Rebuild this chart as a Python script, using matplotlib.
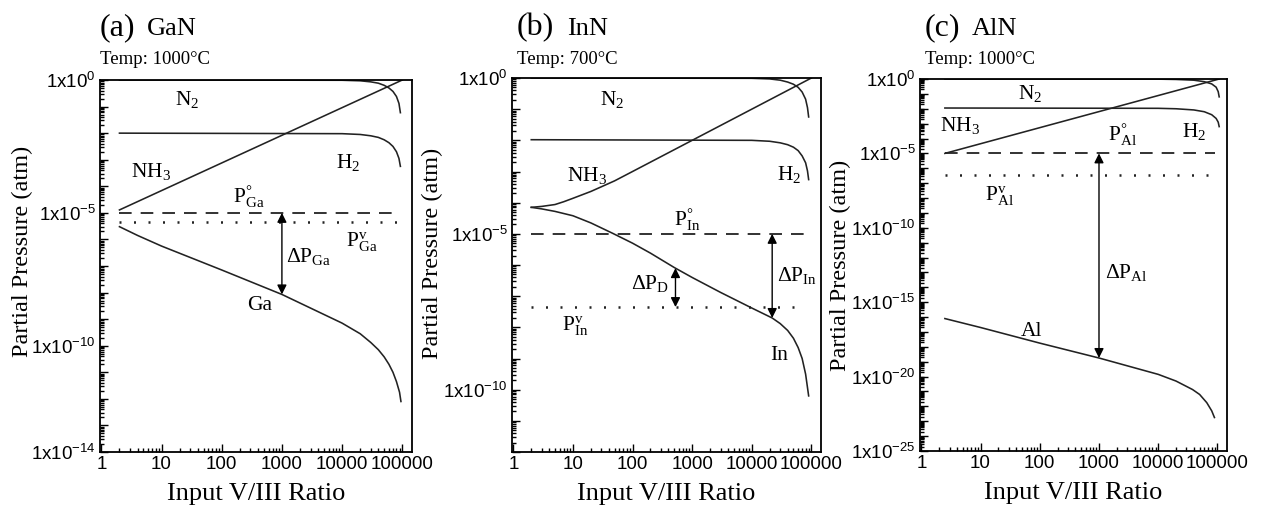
import numpy as np
import matplotlib
matplotlib.use("Agg")
import matplotlib.pyplot as plt

plt.rcParams["font.family"] = ["Liberation Serif", "DejaVu Serif"]
plt.rcParams["mathtext.fontset"] = "custom"
plt.rcParams["mathtext.rm"] = "Liberation Serif"
plt.rcParams["mathtext.it"] = "Liberation Serif:italic"
plt.rcParams["mathtext.sf"] = "Liberation Sans"

# ---- data (y values are log10 of pressure in atm) ----
# (a) GaN, 1000 C
gan_x_flat = [2, 1e4, 2e4, 3e4, 4e4, 5e4, 6e4, 7e4, 8e4, 8.8e4, 9.3e4]
gan_n2 = [0.0, -0.01, -0.03, -0.07, -0.12, -0.2, -0.3, -0.43, -0.62, -0.88, -1.23]
gan_h2 = [-2.0, -2.02, -2.05, -2.1, -2.16, -2.25, -2.36, -2.5, -2.7, -2.95, -3.25]
gan_nh3_x = [2, 1e5]
gan_nh3 = [-4.89, 0.0]
gan_ga_x = [2, 4, 10, 100, 1000, 1e4, 2e4, 3e4, 4e4, 5e4, 6e4, 7e4, 8e4, 9e4, 9.5e4]
gan_ga = [-5.52, -5.85, -6.25, -7.15, -8.07, -9.15, -9.55, -9.88, -10.15, -10.42,
          -10.7, -11.0, -11.35, -11.75, -12.1]
gan_p0, gan_pv = -5.0, -5.33
gan_line_x = [2, 8.5e4]
gan_arrow = (1000, -5.0, -8.07)

# (b) InN, 700 C
inn_x_flat = [2, 1e4, 2e4, 3e4, 4e4, 5e4, 6e4, 7e4, 8e4, 8.6e4, 9e4]
inn_n2 = [0.0, -0.01, -0.03, -0.07, -0.13, -0.2, -0.3, -0.45, -0.68, -0.95, -1.25]
inn_h2 = [-1.98, -2.0, -2.03, -2.08, -2.14, -2.22, -2.33, -2.5, -2.72, -2.98, -3.26]
inn_nh3_x = [2, 3, 5, 7, 10, 20, 30, 50, 100, 1e5]
inn_nh3 = [-4.15, -4.12, -4.06, -3.97, -3.86, -3.64, -3.49, -3.3, -3.0, 0.0]
inn_in_x = [2, 3, 5, 10, 20, 46, 100, 200, 500, 1000, 3000, 1e4, 2.2e4, 3e4, 4e4,
            5e4, 6e4, 7e4, 8e4, 9e4]
inn_in = [-4.15, -4.2, -4.28, -4.42, -4.65, -4.98, -5.3, -5.62, -6.08, -6.4, -6.88,
          -7.38, -7.7, -7.88, -8.1, -8.35, -8.65, -9.0, -9.5, -10.2]
inn_p0, inn_pv = -5.0, -7.35
inn_line_x = [2, 8e4]
inn_arrow_d = (525, -6.1, -7.35)
inn_arrow = (2.2e4, -5.0, -7.7)

# (c) AlN, 1000 C
aln_x_flat = [2.5, 1e4, 2e4, 4e4, 6e4, 8e4, 9.5e4, 1.03e5, 1.07e5]
aln_n2 = [0.0, -0.01, -0.03, -0.08, -0.18, -0.33, -0.55, -0.85, -1.2]
aln_h2 = [-1.95, -1.97, -2.0, -2.08, -2.2, -2.4, -2.65, -2.9, -3.2]
aln_nh3_x = [2.5, 1.07e5]
aln_nh3 = [-5.0, 0.0]
aln_al_x = [2.5, 10, 100, 1000, 1e4, 2e4, 3.8e4, 5e4, 6.6e4, 8e4, 8.9e4]
aln_al = [-16.1, -16.7, -17.75, -18.75, -19.85, -20.3, -20.87, -21.2, -21.75,
          -22.3, -22.75]
aln_p0, aln_pv = -5.0, -6.45
aln_line_x = [2.5, 9e4]
aln_arrow = (1000, -5.0, -18.75)


def sup(e):
    return r"$\mathsf{1x10^{%d}}$" % e


def style_axes(ax, ymin_exp, labelled, ylab_x, ylab_y):
    ax.set_xscale("log")
    ax.set_yscale("log")
    ax.set_xlim(0.95, 1.45e5)
    ax.set_ylim(10.0 ** ymin_exp, 1.0)
    decades = list(range(ymin_exp, 1))
    ax.set_yticks([10.0 ** d for d in decades])
    ax.set_yticklabels([sup(d) if d in labelled else "" for d in decades])
    ax.yaxis.set_minor_locator(matplotlib.ticker.LogLocator(subs=np.arange(2, 10), numticks=60))
    ax.yaxis.set_minor_formatter(matplotlib.ticker.NullFormatter())
    xt = [1, 10, 100, 1000, 10000, 100000]
    ax.set_xticks(xt)
    ax.set_xticklabels([str(v) for v in xt])
    ax.xaxis.set_minor_locator(matplotlib.ticker.LogLocator(subs=np.arange(2, 10), numticks=20))
    ax.xaxis.set_minor_formatter(matplotlib.ticker.NullFormatter())
    ax.tick_params(which="both", direction="in", top=False, right=False, width=1)
    ax.tick_params(which="major", length=6, labelsize=13.5, pad=3)
    ax.tick_params(which="minor", length=3)
    for lab in ax.get_xticklabels() + ax.get_yticklabels():
        lab.set_family("Liberation Sans")
    for s in ax.spines.values():
        s.set_linewidth(1.3)
    ax.set_xlabel("Input V/III Ratio", fontsize=19, labelpad=7)
    ax.set_ylabel("Partial Pressure (atm)", fontsize=17.5)
    ax.yaxis.set_label_coords(ylab_x, ylab_y)


def draw_panel(ax, xf, n2, h2, nh3x, nh3, mx, m, p0, pv, lx):
    kw = dict(color="#222222", lw=1.15)
    ax.plot(xf, 10.0 ** np.array(n2), **kw)
    ax.plot(xf, 10.0 ** np.array(h2), **kw)
    ax.plot(nh3x, 10.0 ** np.array(nh3), **kw)
    ax.plot(mx, 10.0 ** np.array(m), **kw)
    ax.plot(lx, [10.0 ** p0] * 2, color="#222222", lw=1.3, dashes=(7, 5))
    ax.plot(lx, [10.0 ** pv] * 2, color="#222222", lw=1.8, dashes=(0.8, 5))


def arrow(ax, spec):
    x, y0, y1 = spec
    ax.annotate("", xy=(x, 10.0 ** y1), xytext=(x, 10.0 ** y0),
                arrowprops=dict(arrowstyle="<|-|>", color="black", lw=1.0,
                                mutation_scale=14, shrinkA=0, shrinkB=0))


def lab(ax, x, ye, s, size=15.5, ha="center"):
    ax.text(x, 10.0 ** ye, s, fontsize=size, ha=ha, va="center")


fig = plt.figure(figsize=(12.65, 5.12), dpi=100)
W, H = 1265.0, 512.0


def add_ax(l, r, t, b):
    return fig.add_axes([l / W, 1 - b / H, (r - l) / W, (b - t) / H])


def heading(x, y, tag, name, temp, xname):
    fig.text(x / W, 1 - y / H, tag, fontsize=23, va="baseline")
    fig.text(xname / W, 1 - y / H, name, fontsize=19, va="baseline")
    fig.text(x / W, 1 - (y + 29) / H, temp, fontsize=13.5, va="baseline")


# (a) GaN
ax = add_ax(100, 412, 80, 452)
draw_panel(ax, gan_x_flat, gan_n2, gan_h2, gan_nh3_x, gan_nh3, gan_ga_x, gan_ga,
           gan_p0, gan_pv, gan_line_x)
style_axes(ax, -14, [0, -5, -10, -14], -67 / 312, 0.54)
arrow(ax, gan_arrow)
lab(ax, 27, -0.75, r"$\mathrm{N_2}$")
lab(ax, 6.8, -3.43, r"$\mathrm{NH_3}$")
lab(ax, 12600, -3.1, r"$\mathrm{H_2}$")
lab(ax, 280, -4.37, r"$\mathrm{P^{°}_{Ga}}$")
lab(ax, 21000, -6.1, r"$\mathrm{P^{v}_{Ga}}$")
lab(ax, 1150, -6.64, r"$\Delta\mathrm{P_{Ga}}$", ha="left")
lab(ax, 430, -8.47, "Ga")
heading(100, 35, "(a)", "GaN", "Temp: 1000°C", 147)

# (b) InN
ax = add_ax(512, 821, 78, 452)
draw_panel(ax, inn_x_flat, inn_n2, inn_h2, inn_nh3_x, inn_nh3, inn_in_x, inn_in,
           inn_p0, inn_pv, inn_line_x)
style_axes(ax, -12, [0, -5, -10], -69 / 309, 0.53)
arrow(ax, inn_arrow_d)
arrow(ax, inn_arrow)
lab(ax, 46, -0.7, r"$\mathrm{N_2}$")
lab(ax, 17, -3.13, r"$\mathrm{NH_3}$")
lab(ax, 42000, -3.1, r"$\mathrm{H_2}$")
lab(ax, 830, -4.54, r"$\mathrm{P^{°}_{In}}$")
lab(ax, 420, -6.58, r"$\Delta\mathrm{P_{D}}$", ha="right")
lab(ax, 26000, -6.33, r"$\Delta\mathrm{P_{In}}$", ha="left")
lab(ax, 11, -7.96, r"$\mathrm{P^{v}_{In}}$")
lab(ax, 29000, -8.9, "In")
heading(517, 35, "(b)", "InN", "Temp: 700°C", 567)

# (c) AlN
ax = add_ax(920, 1227, 79, 451)
draw_panel(ax, aln_x_flat, aln_n2, aln_h2, aln_nh3_x, aln_nh3, aln_al_x, aln_al,
           aln_p0, aln_pv, aln_line_x)
style_axes(ax, -25, [0, -5, -10, -15, -20, -25], -69 / 307, 0.5)
arrow(ax, aln_arrow)
lab(ax, 68, -1.0, r"$\mathrm{N_2}$")
lab(ax, 4.5, -3.15, r"$\mathrm{NH_3}$")
lab(ax, 40000, -3.55, r"$\mathrm{H_2}$")
lab(ax, 2500, -3.75, r"$\mathrm{P^{°}_{Al}}$")
lab(ax, 21, -7.85, r"$\mathrm{P^{v}_{Al}}$")
lab(ax, 1250, -13.0, r"$\Delta\mathrm{P_{Al}}$", ha="left")
lab(ax, 74, -17.0, "Al")
heading(925, 35, "(c)", "AlN", "Temp: 1000°C", 972)

fig.savefig("out.png", dpi=100)
